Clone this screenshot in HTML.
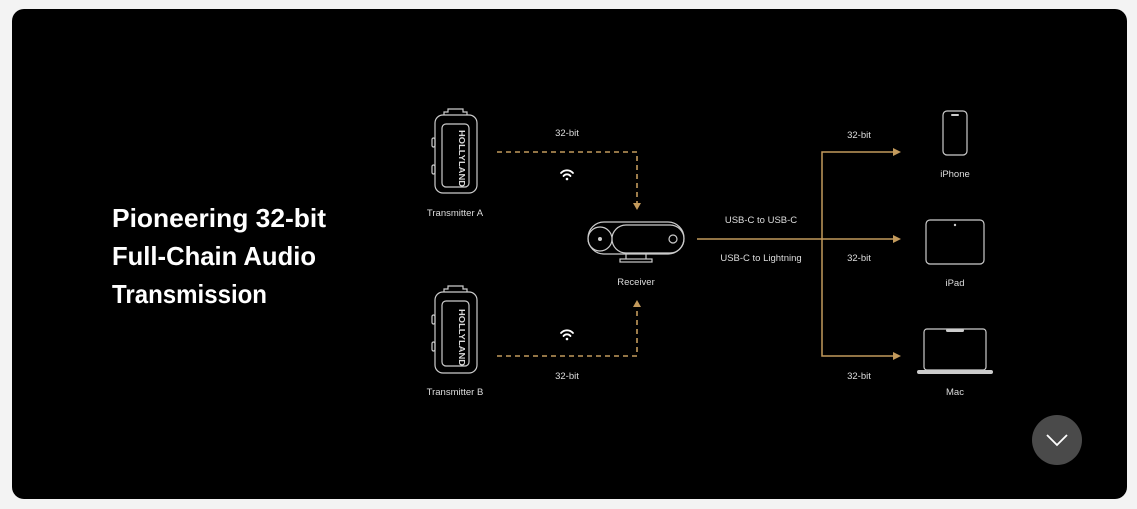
<!DOCTYPE html>
<html><head><meta charset="utf-8"><style>
html,body{margin:0;padding:0;background:#f3f3f3;width:1137px;height:509px;overflow:hidden}
.card{position:absolute;left:12px;top:9px;width:1115px;height:490px;background:#000;border-radius:12px;overflow:hidden}
svg{position:absolute;left:0;top:0}
.t{font-family:"Liberation Sans",sans-serif;fill:#ddd;font-size:9.5px;text-anchor:middle}
</style></head><body>
<div class="card"></div>
<svg width="1137" height="509" viewBox="0 0 1137 509">
<g font-family="Liberation Sans, sans-serif" font-size="26" fill="#fff" font-weight="bold">
<text x="112" y="227" textLength="214" lengthAdjust="spacingAndGlyphs">Pioneering 32-bit</text>
<text x="112" y="265" textLength="204" lengthAdjust="spacingAndGlyphs">Full-Chain Audio</text>
<text x="112" y="303" textLength="155" lengthAdjust="spacingAndGlyphs">Transmission</text>
</g>
<g fill="none" stroke="#ccc" stroke-width="1.2">
<rect x="435" y="115" width="42" height="78" rx="8"/>
<rect x="442" y="124" width="27" height="63" rx="4"/>
<path d="M444 115 v-3 h4 v-3 h15 v3 h4 v3"/>
<rect x="432" y="138" width="3" height="9" rx="1.5"/>
<rect x="432" y="165" width="3" height="9" rx="1.5"/>
<g transform="translate(0,181)">
<rect x="435" y="111" width="42" height="81" rx="8"/>
<rect x="442" y="120" width="27" height="65" rx="4"/>
<path d="M444 111 v-3 h4 v-3 h15 v3 h4 v3"/>
<rect x="432" y="134" width="3" height="9" rx="1.5"/>
<rect x="432" y="161" width="3" height="9" rx="1.5"/>
</g>
<rect x="588" y="222" width="96" height="32" rx="16"/>
<circle cx="600" cy="239" r="12"/>
<rect x="612" y="225" width="72" height="28" rx="14"/>
<circle cx="673" cy="239" r="4"/>
<path d="M626 254 v5 M646 254 v5"/>
<rect x="620" y="259" width="32" height="3"/>
<rect x="943" y="111" width="24" height="44" rx="4"/>
<rect x="926" y="220" width="58" height="44" rx="4"/>
<rect x="924" y="329" width="62" height="41" rx="3"/>
</g>
<circle cx="600" cy="239" r="2" fill="#ccc"/>
<rect x="951" y="114" width="8" height="2" rx="1" fill="#ccc"/>
<circle cx="955" cy="225" r="1.2" fill="#ccc"/>
<rect x="946" y="329" width="18" height="3" rx="1.5" fill="#ccc"/>
<rect x="917" y="370" width="76" height="4" rx="2" fill="#ccc"/>
<g font-family="Liberation Sans, sans-serif" font-size="8" font-weight="bold" fill="#ddd">
<text transform="translate(459,130) rotate(90)" textLength="57" lengthAdjust="spacingAndGlyphs">HOLLYLAND</text>
<text transform="translate(459,309) rotate(90)" textLength="57" lengthAdjust="spacingAndGlyphs">HOLLYLAND</text>
</g>
<g stroke="#c39a5c" stroke-width="1.6" fill="none" stroke-dasharray="5 4">
<path d="M497 152 H637 V203"/>
<path d="M497 356 H637 V306"/>
</g>
<path d="M633 203 L641 203 L637 210Z" fill="#c39a5c"/>
<path d="M633 307 L641 307 L637 300Z" fill="#c39a5c"/>
<g stroke="#c39a5c" stroke-width="1.5" fill="none">
<path d="M697 239 H893"/>
<path d="M893 152 H822 V356 H893"/>
</g>
<g fill="#c39a5c">
<path d="M893 148 L901 152 L893 156Z"/>
<path d="M893 235 L901 239 L893 243Z"/>
<path d="M893 352 L901 356 L893 360Z"/>
</g>
<g stroke="#fff" stroke-width="1.8" fill="none" stroke-linecap="round">
<path d="M561 173 a8 8 0 0 1 12 0"/><path d="M563.5 176 a4.5 4.5 0 0 1 7 0"/>
<path d="M561 333 a8 8 0 0 1 12 0"/><path d="M563.5 336 a4.5 4.5 0 0 1 7 0"/>
</g>
<circle cx="567" cy="179" r="1.3" fill="#fff"/>
<circle cx="567" cy="339" r="1.3" fill="#fff"/>
<text class="t" x="567" y="136">32-bit</text>
<text class="t" x="567" y="379">32-bit</text>
<text class="t" x="455" y="216">Transmitter A</text>
<text class="t" x="455" y="395">Transmitter B</text>
<text class="t" x="636" y="285">Receiver</text>
<text class="t" x="761" y="223">USB-C to USB-C</text>
<text class="t" x="761" y="261">USB-C to Lightning</text>
<text class="t" x="859" y="138">32-bit</text>
<text class="t" x="859" y="261">32-bit</text>
<text class="t" x="859" y="379">32-bit</text>
<text class="t" x="955" y="177">iPhone</text>
<text class="t" x="955" y="286">iPad</text>
<text class="t" x="955" y="395">Mac</text>
<circle cx="1057" cy="440" r="25" fill="#4a4a4a"/>
<path d="M1047 435 L1057 445 L1067 435" stroke="#fff" stroke-width="1.8" fill="none"/>
</svg>
</body></html>
